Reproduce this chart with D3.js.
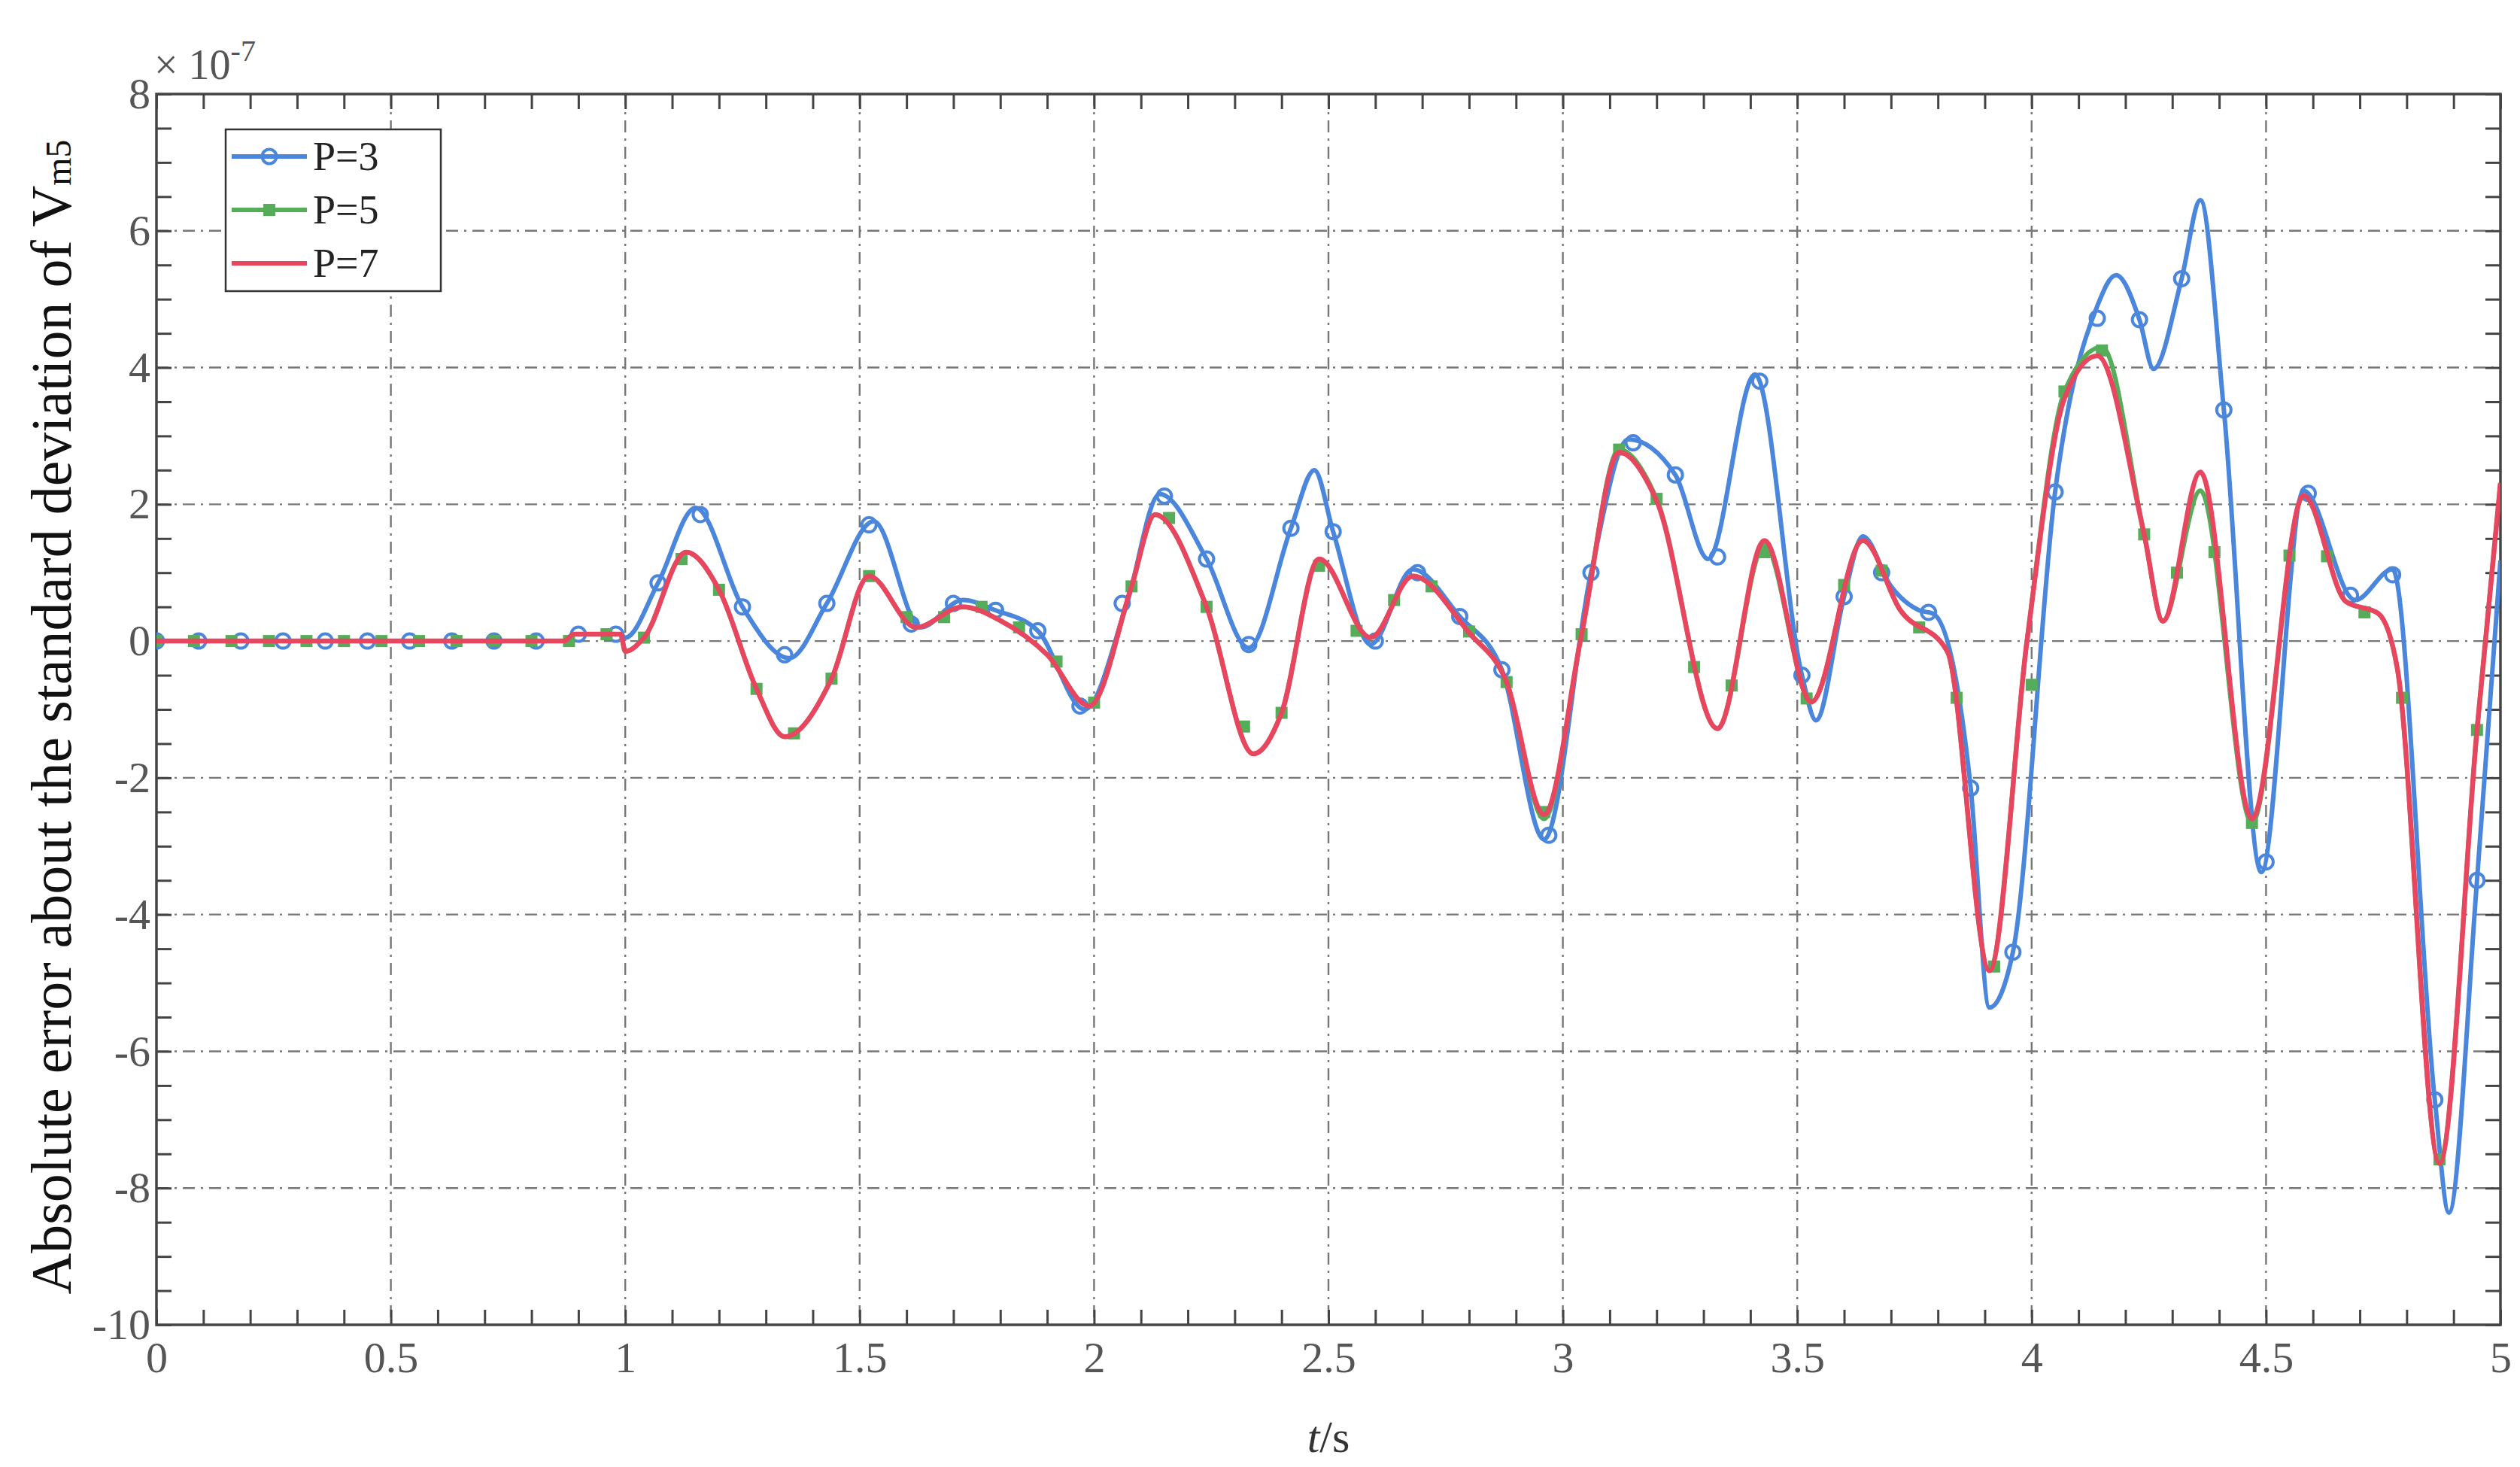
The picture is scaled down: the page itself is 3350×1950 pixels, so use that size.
<!DOCTYPE html>
<html><head><meta charset="utf-8">
<script src="https://cdn.jsdelivr.net/npm/d3@7/dist/d3.min.js"></script>
<style>body{margin:0;background:#fff}</style></head>
<body><svg id="c" width="3350" height="1950"></svg>
<script>
// values in units of 1e-7
const seriesNames = ["P=3","P=5","P=7"];
const xTicks = [0,0.5,1,1.5,2,2.5,3,3.5,4,4.5,5];
const yTicks = [-10,-8,-6,-4,-2,0,2,4,6,8];
const blueCurve = [[0,0],[0.87,0],[0.89,0.1],[0.99,0.1],[1.0,0.05],[1.07,0.85],[1.15,1.95],[1.25,0.5],[1.35,-0.25],[1.43,0.55],[1.53,1.75],[1.63,0.2],[1.72,0.6],[1.79,0.45],[1.88,0.15],[1.98,-1.0],[2.07,0.55],[2.14,2.15],[2.24,1.2],[2.33,-0.1],[2.42,1.65],[2.47,2.5],[2.51,1.6],[2.59,-0.05],[2.68,1.05],[2.78,0.36],[2.87,-0.42],[2.96,-2.9],[3.06,1.0],[3.14,2.95],[3.24,2.43],[3.31,1.2],[3.41,3.9],[3.51,-0.5],[3.54,-1.16],[3.6,0.65],[3.64,1.53],[3.7,0.8],[3.76,0.45],[3.79,0.4],[3.87,-2.15],[3.91,-5.36],[3.96,-4.55],[4.05,2.18],[4.14,4.9],[4.18,5.35],[4.23,4.7],[4.26,3.98],[4.32,5.3],[4.36,6.45],[4.41,3.38],[4.49,-3.38],[4.58,2.2],[4.69,0.6],[4.77,1.05],[4.86,-6.71],[4.89,-8.36],[4.95,-3.5],[5.0,1.18]];
const blueMarks = [[0,0],[0.09,0],[0.18,0],[0.27,0],[0.36,0],[0.45,0],[0.54,0],[0.63,0],[0.72,0],[0.81,0],[0.9,0.1],[0.98,0.1],[1.07,0.85],[1.16,1.85],[1.25,0.5],[1.34,-0.2],[1.43,0.55],[1.52,1.7],[1.61,0.25],[1.7,0.55],[1.79,0.45],[1.88,0.15],[1.97,-0.95],[2.06,0.55],[2.15,2.12],[2.24,1.2],[2.33,-0.05],[2.42,1.65],[2.51,1.6],[2.6,0],[2.69,1.0],[2.78,0.36],[2.87,-0.42],[2.97,-2.84],[3.06,1.0],[3.15,2.9],[3.24,2.43],[3.33,1.23],[3.42,3.8],[3.51,-0.5],[3.6,0.65],[3.68,1.0],[3.78,0.42],[3.87,-2.15],[3.96,-4.55],[4.05,2.18],[4.14,4.72],[4.23,4.7],[4.32,5.3],[4.41,3.38],[4.5,-3.23],[4.59,2.16],[4.68,0.67],[4.77,0.97],[4.86,-6.71],[4.95,-3.5]];
const greenCurve = [[0,0],[0.87,0],[0.89,0.1],[0.99,0.1],[1.0,-0.15],[1.04,0.05],[1.13,1.3],[1.2,0.75],[1.28,-0.7],[1.34,-1.4],[1.44,-0.55],[1.52,0.95],[1.62,0.2],[1.72,0.5],[1.8,0.3],[1.9,-0.2],[1.99,-0.95],[2.08,0.8],[2.13,1.85],[2.24,0.5],[2.34,-1.65],[2.4,-1.05],[2.48,1.2],[2.59,0.05],[2.68,0.95],[2.8,0.12],[2.88,-0.6],[2.96,-2.6],[3.04,0.1],[3.12,2.8],[3.2,2.08],[3.33,-1.28],[3.43,1.4],[3.53,-0.89],[3.64,1.47],[3.72,0.45],[3.82,-0.15],[3.91,-4.82],[3.99,0],[4.07,3.65],[4.15,4.3],[4.24,1.56],[4.28,0.3],[4.36,2.2],[4.47,-2.66],[4.58,2.13],[4.67,0.58],[4.74,0.4],[4.78,-0.4],[4.87,-7.64],[4.95,-1.3],[5.0,2.31]];
const greenMarks = [[0,0],[0.08,0],[0.16,0],[0.24,0],[0.32,0],[0.4,0],[0.48,0],[0.56,0],[0.64,0],[0.72,0],[0.8,0],[0.88,0],[0.96,0.1],[1.04,0.05],[1.12,1.2],[1.2,0.75],[1.28,-0.7],[1.36,-1.35],[1.44,-0.55],[1.52,0.95],[1.6,0.35],[1.68,0.35],[1.76,0.5],[1.84,0.2],[1.92,-0.3],[2.0,-0.9],[2.08,0.8],[2.16,1.8],[2.24,0.5],[2.32,-1.25],[2.4,-1.05],[2.48,1.1],[2.56,0.15],[2.64,0.6],[2.72,0.8],[2.8,0.14],[2.88,-0.6],[2.96,-2.5],[3.04,0.1],[3.12,2.8],[3.2,2.08],[3.28,-0.38],[3.36,-0.65],[3.43,1.3],[3.52,-0.84],[3.6,0.82],[3.68,1.03],[3.76,0.2],[3.84,-0.83],[3.92,-4.76],[4.0,-0.64],[4.07,3.65],[4.15,4.25],[4.24,1.56],[4.31,1.0],[4.39,1.3],[4.47,-2.66],[4.55,1.25],[4.63,1.24],[4.71,0.42],[4.79,-0.83],[4.87,-7.58],[4.95,-1.3]];
const redCurve = [[0,0],[0.87,0],[0.89,0.1],[0.99,0.1],[1.0,-0.15],[1.04,0.05],[1.13,1.3],[1.2,0.75],[1.28,-0.7],[1.34,-1.4],[1.44,-0.55],[1.52,0.95],[1.62,0.2],[1.72,0.5],[1.8,0.3],[1.9,-0.2],[1.99,-0.95],[2.08,0.8],[2.13,1.85],[2.24,0.5],[2.34,-1.65],[2.4,-1.05],[2.48,1.2],[2.59,0.05],[2.68,0.95],[2.8,0.12],[2.88,-0.6],[2.96,-2.54],[3.04,0.1],[3.12,2.76],[3.2,2.05],[3.33,-1.28],[3.43,1.47],[3.53,-0.89],[3.64,1.47],[3.72,0.45],[3.82,-0.15],[3.91,-4.82],[3.99,0],[4.07,3.55],[4.14,4.17],[4.24,1.56],[4.28,0.29],[4.36,2.47],[4.47,-2.6],[4.58,2.13],[4.67,0.58],[4.74,0.4],[4.78,-0.4],[4.87,-7.64],[4.95,-1.3],[5.0,2.31]];

const colors = ["#4a86dc","#55ad5a","#e8465f"];
const W=3350,H=1950,m={l:208,r:26,t:125,b:189};
const svg=d3.select("#c");
const x=d3.scaleLinear().domain([0,5]).range([m.l,W-m.r]);
const y=d3.scaleLinear().domain([-10,8]).range([H-m.b,m.t]);
const font="Liberation Serif, Times New Roman, serif";
const gridC="#777";
svg.append("g").selectAll("line").data(xTicks.slice(1,-1)).join("line")
 .attr("x1",d=>x(d)).attr("x2",d=>x(d)).attr("y1",m.t).attr("y2",H-m.b)
 .attr("stroke",gridC).attr("stroke-width",2.4).attr("stroke-dasharray","16,8,3,8");
svg.append("g").selectAll("line").data(yTicks.slice(1,-1)).join("line")
 .attr("y1",d=>y(d)).attr("y2",d=>y(d)).attr("x1",m.l).attr("x2",W-m.r)
 .attr("stroke",gridC).attr("stroke-width",2.4).attr("stroke-dasharray","16,8,3,8");
const tk=(g)=>g.call(s=>s.select(".domain").remove()).selectAll("line").attr("stroke","#444").attr("stroke-width",3);
const xMinor=d3.range(0,51).map(i=>i/10), yMinor=d3.range(0,37).map(i=>-10+i/2);
svg.append("g").attr("transform",`translate(0,${H-m.b})`).call(d3.axisBottom(x).tickValues(xMinor).tickSize(-20).tickFormat("")).call(tk);
svg.append("g").attr("transform",`translate(0,${m.t})`).call(d3.axisTop(x).tickValues(xMinor).tickSize(-20).tickFormat("")).call(tk);
svg.append("g").attr("transform",`translate(${m.l},0)`).call(d3.axisLeft(y).tickValues(yMinor).tickSize(-20).tickFormat("")).call(tk);
svg.append("g").attr("transform",`translate(${W-m.r},0)`).call(d3.axisRight(y).tickValues(yMinor).tickSize(-20).tickFormat("")).call(tk);
const xa=svg.append("g").attr("transform",`translate(0,${H-m.b})`).call(d3.axisBottom(x).tickValues(xTicks).tickSize(0).tickPadding(22).tickFormat(d=>d));
xa.select(".domain").remove();
xa.selectAll("text").attr("font-family",font).attr("font-size",58).attr("fill","#555");
const ya=svg.append("g").attr("transform",`translate(${m.l},0)`).call(d3.axisLeft(y).tickValues(yTicks).tickSize(0).tickPadding(8).tickFormat(d=>d));
ya.select(".domain").remove();
ya.selectAll("text").attr("font-family",font).attr("font-size",58).attr("fill","#555");
svg.append("rect").attr("x",m.l).attr("y",m.t).attr("width",W-m.l-m.r).attr("height",H-m.t-m.b).attr("fill","none").attr("stroke","#444").attr("stroke-width",3.5);
const line=d3.line().x(d=>x(d[0])).y(d=>y(d[1])).curve(d3.curveMonotoneX);
svg.append("clipPath").attr("id","cp").append("rect").attr("x",m.l).attr("y",m.t).attr("width",W-m.l-m.r).attr("height",H-m.t-m.b);
const pg=svg.append("g").attr("clip-path","url(#cp)");
pg.append("path").datum(blueCurve).attr("d",line).attr("fill","none").attr("stroke",colors[0]).attr("stroke-width",6);
pg.selectAll("circle.b").data(blueMarks).join("circle").attr("cx",d=>x(d[0])).attr("cy",d=>y(d[1])).attr("r",9.5).attr("fill","none").attr("stroke",colors[0]).attr("stroke-width",4);
pg.append("path").datum(greenCurve).attr("d",line).attr("fill","none").attr("stroke",colors[1]).attr("stroke-width",6);
pg.selectAll("rect.g").data(greenMarks).join("rect").attr("x",d=>x(d[0])-8).attr("y",d=>y(d[1])-8).attr("width",16).attr("height",16).attr("fill",colors[1]);
pg.append("path").datum(redCurve).attr("d",line).attr("fill","none").attr("stroke",colors[2]).attr("stroke-width",6.5);
const lg=svg.append("g");
lg.append("rect").attr("x",300).attr("y",172).attr("width",286).attr("height",215).attr("fill","#fff").attr("stroke","#333").attr("stroke-width",2.5);
seriesNames.forEach((n,i)=>{
  const yy=208+i*71;
  lg.append("line").attr("x1",308).attr("x2",408).attr("y1",yy).attr("y2",yy).attr("stroke",colors[i]).attr("stroke-width",6);
  if(i===0) lg.append("circle").attr("cx",358).attr("cy",yy).attr("r",9.5).attr("fill","none").attr("stroke",colors[0]).attr("stroke-width",4);
  if(i===1) lg.append("rect").attr("x",350).attr("y",yy-8).attr("width",16).attr("height",16).attr("fill",colors[1]);
  lg.append("text").attr("x",416).attr("y",yy+18).attr("font-family",font).attr("font-size",54).attr("fill","#222").text(n);
});
const yl=svg.append("text").attr("transform",`translate(94,${(m.t+H-m.b)/2+10}) rotate(-90)`).attr("text-anchor","middle")
 .attr("font-family",font).attr("font-size",76).attr("fill","#111");
yl.append("tspan").text("Absolute error about the standard deviation  of V");
yl.append("tspan").attr("font-size",48).text("m5");
const ex=svg.append("text").attr("x",205).attr("y",105).attr("font-family",font).attr("font-size",56).attr("fill","#555");
ex.append("tspan").text("× 10");
ex.append("tspan").attr("font-size",40).attr("dy",-24).text("-7");
const xl=svg.append("text").attr("x",(m.l+W-m.r)/2).attr("y",1930).attr("text-anchor","middle").attr("font-family",font).attr("font-size",60).attr("fill","#333");
xl.append("tspan").attr("font-style","italic").text("t");
xl.append("tspan").text("/s");
</script></body></html>
